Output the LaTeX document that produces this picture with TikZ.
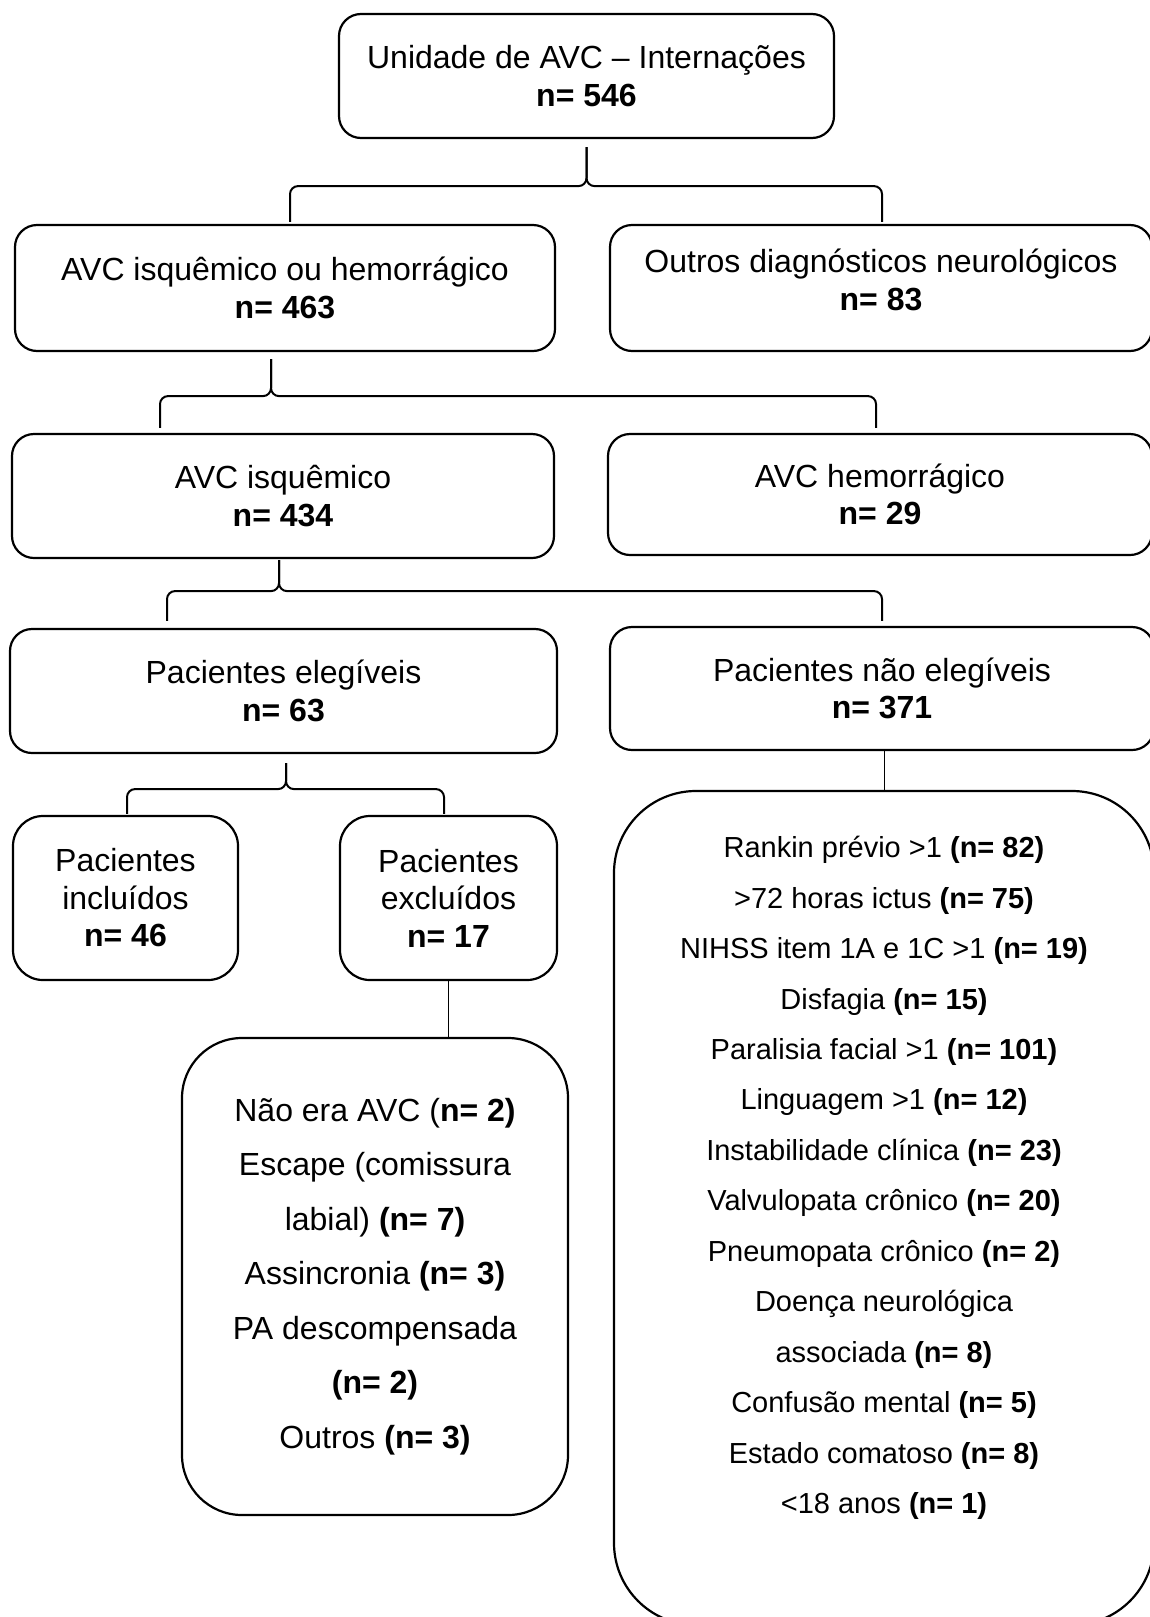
\documentclass[tikz,border=0pt]{standalone}
\usepackage{fontspec}
\setmainfont{Liberation Sans}
\usepackage{tikz}

\begin{document}
\begin{tikzpicture}[x=1pt, y=-1pt,
  box/.style = {draw, line width=2.2pt, rounded corners=22pt, align=center, inner sep=0pt, font=\fontsize{32}{37.5}\selectfont},
  list/.style = {draw, line width=2.2pt, align=center, inner sep=0pt},
  fork/.style = {line width=2pt, rounded corners=8pt},
  link/.style = {line width=1pt}]
\useasboundingbox (0,0) rectangle (1150,1617);

\node[box, minimum width=495pt, minimum height=124pt] (1) at (586.5,76) {Unidade de AVC – Internações\\\textbf{n= 546}};
\node[box, minimum width=540pt, minimum height=126pt] (2) at (285,288) {AVC isquêmico ou hemorrágico\\\textbf{n= 463}};
\node[box, minimum width=542pt, minimum height=126pt] (3) at (881,288) {Outros diagnósticos neurológicos\\\textbf{n= 83}\\[-21pt]\mbox{}};
\node[box, minimum width=542pt, minimum height=124pt] (4) at (283,496) {AVC isquêmico\\\textbf{n= 434}};
\node[box, minimum width=544pt, minimum height=121pt] (5) at (880,494.5) {AVC hemorrágico\\\textbf{n= 29}};
\node[box, minimum width=547pt, minimum height=124pt] (6) at (283.5,691) {Pacientes elegíveis\\\textbf{n= 63}};
\node[box, minimum width=544pt, minimum height=123pt] (7) at (882,688.5) {Pacientes não elegíveis\\\textbf{n= 371}};
\node[box, rounded corners=30pt, minimum width=225pt, minimum height=164pt] (8) at (125.5,898) {Pacientes\\incluídos\\\textbf{n= 46}};
\node[box, rounded corners=30pt, minimum width=217pt, minimum height=164pt] (9) at (448.5,898) {Pacientes\\excluídos\\\textbf{n= 17}};

\node[list, rounded corners=60pt, minimum width=386pt, minimum height=477pt, font=\fontsize{32}{54.5}\selectfont] (10) at (375,1276.5)
  {Não era AVC (\textbf{n= 2)}\\Escape (comissura\\labial) \textbf{(n= 7)}\\Assincronia \textbf{(n= 3)}\\PA descompensada\\\textbf{(n= 2)}\\Outros \textbf{(n= 3)}};

\node[list, rounded corners=82pt, minimum width=540pt, minimum height=834pt] (11) at (884,1208) {};
\node[align=center, inner sep=0pt, font=\fontsize{29}{50.46}\selectfont] (11t) at (884,1178)
  {Rankin prévio >1 \textbf{(n= 82)}\\>72 horas ictus \textbf{(n= 75)}\\NIHSS item 1A e 1C >1 \textbf{(n= 19)}\\Disfagia \textbf{(n= 15)}\\Paralisia facial >1 \textbf{(n= 101)}\\Linguagem >1 \textbf{(n= 12)}\\Instabilidade clínica \textbf{(n= 23)}\\Valvulopata crônico \textbf{(n= 20)}\\Pneumopata crônico \textbf{(n= 2)}\\Doença neurológica\\associada \textbf{(n= 8)}\\Confusão mental \textbf{(n= 5)}\\Estado comatoso \textbf{(n= 8)}\\<18 anos \textbf{(n= 1)}};

% braces
\path (1.south) ++(0,47) coordinate (j1);
\draw[fork] (1.south) ++(0,8) -- (j1) -| ([xshift=5pt,yshift=2pt]2.north);
\draw[fork] (1.south) ++(0,8) -- (j1) -| ([xshift=1pt,yshift=2pt]3.north);

\path (2.south) ++(-14,44) coordinate (j2);
\draw[fork] (2.south) ++(-14,7) -- (j2) -| ([xshift=-123pt,yshift=5pt]4.north);
\draw[fork] (2.south) ++(-14,7) -- (j2) -| ([xshift=-4pt,yshift=5pt]5.north);

\path (4.south) ++(-4,32) coordinate (j3);
\draw[fork] (4.south) ++(-4,1) -- (j3) -| ([xshift=-116.5pt,yshift=7pt]6.north);
\draw[fork] (4.south) ++(-4,1) -- (j3) -| ([yshift=5pt]7.north);

\path (6.south) ++(2.5,35) coordinate (j4);
\draw[fork] (6.south) ++(2.5,9) -- (j4) -| ([xshift=1.5pt,yshift=1pt]8.north);
\draw[fork] (6.south) ++(2.5,9) -- (j4) -| ([xshift=-4.5pt,yshift=1pt]9.north);

\draw[link] (11.north |- 7.south) -- (11.north);
\draw[link] (9.south) -- (9.south |- 10.north);
\end{tikzpicture}
\end{document}
